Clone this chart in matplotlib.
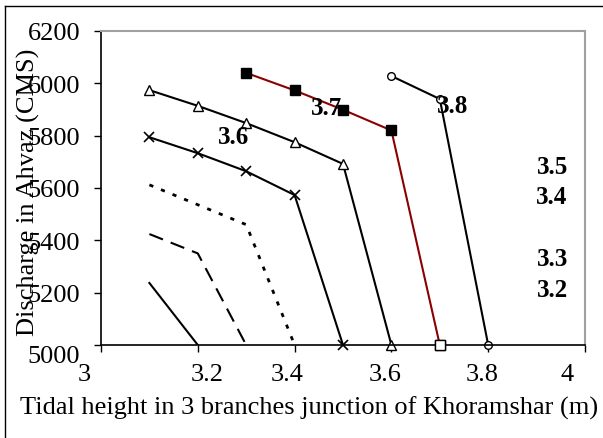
import matplotlib.pyplot as plt
import matplotlib.transforms as mtransforms
from matplotlib.lines import Line2D

plt.rcParams['font.family'] = ['Liberation Serif', 'DejaVu Serif']

# tidal height (m) vs discharge (CMS) for each level
x_32 = [3.1, 3.2]
q_32 = [5237, 5000]
x_33 = [3.1, 3.2, 3.3]
q_33 = [5424, 5350, 5000]
x_34 = [3.1, 3.2, 3.3, 3.4]
q_34 = [5612, 5536, 5460, 5000]
x_35 = [3.1, 3.2, 3.3, 3.4, 3.5]
q_35 = [5794, 5733, 5664, 5573, 5000]
x_36 = [3.1, 3.2, 3.3, 3.4, 3.5, 3.6]
q_36 = [5974, 5914, 5848, 5775, 5692, 5000]
x_37 = [3.3, 3.4, 3.5, 3.6, 3.7]
q_37 = [6040, 5973, 5899, 5820, 5000]
x_38 = [3.6, 3.7, 3.8]
q_38 = [6028, 5940, 5000]

level_labels = ['3.6', '3.7', '3.8', '3.5', '3.4', '3.3', '3.2']
label_x = [3.273, 3.467, 3.727, 3.932, 3.932, 3.932, 3.932]
label_y = [5795, 5909, 5917, 5684, 5569, 5332, 5214]

xticks = [3, 3.2, 3.4, 3.6, 3.8, 4]
xtick_labels = ['3', '3.2', '3.4', '3.6', '3.8', '4']
yticks = [5000, 5200, 5400, 5600, 5800, 6000, 6200]

fig = plt.figure(figsize=(6.03, 4.39), dpi=100)
ax = fig.add_axes([101/603, 93/439, 484/603, 314/439])

ax.plot(x_32, q_32, color='black', lw=1.5)
ax.plot(x_33, q_33, color='black', lw=1.5, linestyle=(0, (7, 4)))
ax.plot(x_34, q_34, color='black', lw=2, linestyle=(0, (1.5, 3)))
ax.plot(x_35, q_35, color='black', lw=1.5, marker='x', ms=7, mew=1.2, clip_on=False)
ax.plot(x_36, q_36, color='black', lw=1.5, marker='^', ms=7, mfc='white', mew=1, clip_on=False)
ax.plot(x_37, q_37, color='#8b0000', lw=1.5, marker='s', ms=6.5, mfc='black', mec='black', clip_on=False)
ax.plot(x_37[-1:], q_37[-1:], linestyle='none', marker='s', ms=6.5, mfc='white', mec='black', mew=1,
        clip_on=False, zorder=3)
ax.plot(x_38, q_38, color='black', lw=1.5, marker='o', ms=5.5, mfc='white', mec='black', mew=1,
        clip_on=False)

for t, tx, ty in zip(level_labels, label_x, label_y):
    ax.text(tx, ty, t, fontsize=18, fontweight='bold', ha='center', va='center')

ax.set_xlim(3, 4)
ax.set_ylim(5000, 6200)
ax.set_xticks(xticks)
ax.set_xticklabels(xtick_labels)
ax.set_yticks(yticks)
ax.tick_params(direction='out', length=5, width=1, labelsize=19)
ax.tick_params(axis='x', pad=8)
ax.tick_params(axis='y', pad=10)

# label shifts as seen in the original picture (pixels)
x_shift = [-17, 9, -7, -6, -6, -18]
for lab, dx in zip(ax.get_xticklabels(), x_shift):
    lab.set_transform(lab.get_transform() + mtransforms.ScaledTranslation(dx / 100, 0, fig.dpi_scale_trans))
ylab0 = ax.get_yticklabels()[0]
ylab0.set_transform(ylab0.get_transform() + mtransforms.ScaledTranslation(0, -9 / 100, fig.dpi_scale_trans))

for s in ['top', 'right']:
    ax.spines[s].set_color('#a0a0a0')
    ax.spines[s].set_linewidth(1.5)
for s in ['left', 'bottom']:
    ax.spines[s].set_linewidth(1.2)

fig.text(309/603, 1 - 408/439, 'Tidal height in 3 branches junction of Khoramshar (m)', fontsize=19,
         ha='center', va='center')
fig.text(28/603, 1 - 192/439, 'Discharge in Ahvaz (CMS)', fontsize=19, rotation=90,
         ha='center', va='center')

# outer frame (top and left edges visible)
fig.add_artist(Line2D([5/603, 5/603], [0, 1 - 7/439], transform=fig.transFigure, color='black', lw=1))
fig.add_artist(Line2D([5/603, 1], [1 - 7/439, 1 - 7/439], transform=fig.transFigure, color='black', lw=1))

fig.savefig('out.png', dpi=100)
